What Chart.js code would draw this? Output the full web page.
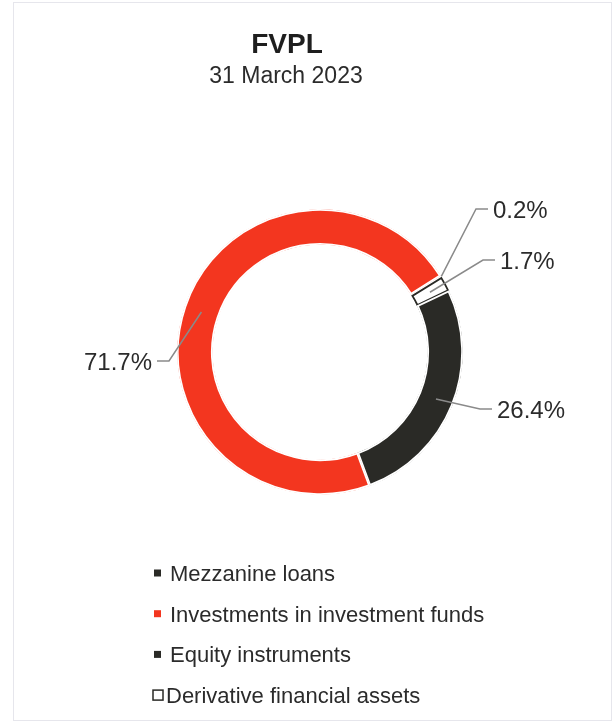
<!DOCTYPE html>
<html>
<head>
<meta charset="utf-8">
<title>FVPL</title>
<script src="https://cdn.jsdelivr.net/npm/chart.js@4.4.0/dist/chart.umd.min.js"></script>
<style>
  html, body { margin: 0; padding: 0; background: #fff; }
  #wrap { position: relative; width: 615px; height: 725px; }
  #frame { position: absolute; left: 13px; top: 2px; width: 597px; height: 717px; border: 1.5px solid #e6e6ec; }
  #chart { position: absolute; left: 0; top: 0; }
</style>
</head>
<body>
<div id="wrap">
  <div id="frame"></div>
  <canvas id="chart" width="615" height="725"></canvas>
</div>
<script>
const categories = ['Mezzanine loans', 'Investments in investment funds', 'Equity instruments', 'Derivative financial assets'];
const shares = [0.2, 71.7, 26.4, 1.7];
// clockwise order of the slices round the ring, starting at the mezzanine sliver
const ringOrder = [0, 3, 2, 1];

const DARK = '#2a2a26';
const RED = '#f3361f';
const TEXT = '#2b2b2b';
const FONT = "'Liberation Sans', Arial, sans-serif";

const fills = [DARK, RED, DARK, '#ffffff'];
const edges = ['#ffffff', '#ffffff', '#ffffff', DARK];

// where each percentage label sits, measured from the ring centre
const labelSpots = [
  { dx: 173, dy: -143, side: 'right', outer: true },
  { dx: -168, dy: 9, side: 'left' },
  { dx: 177, dy: 57, side: 'right' },
  { dx: 180, dy: -92, side: 'right' },
];

const decorations = {
  id: 'decorations',
  afterDraw(chart) {
    const ctx = chart.ctx;
    const meta = chart.getDatasetMeta(0);
    ctx.save();

    // heading
    ctx.textAlign = 'center';
    ctx.textBaseline = 'alphabetic';
    ctx.fillStyle = '#1e1e1e';
    ctx.font = `bold 28px ${FONT}`;
    ctx.fillText('FVPL', 287, 53);
    ctx.fillStyle = TEXT;
    ctx.font = `23px ${FONT}`;
    ctx.fillText('31 March 2023', 286, 83);

    // percentages with leader lines
    ctx.font = `24px ${FONT}`;
    ctx.lineWidth = 1.5;
    ctx.strokeStyle = '#8a8a8a';
    meta.data.forEach((arc, pos) => {
      const idx = ringOrder[pos];
      const spot = labelSpots[idx];
      const p = arc.getProps(['x', 'y', 'startAngle', 'endAngle', 'innerRadius', 'outerRadius'], true);
      const mid = (p.startAngle + p.endAngle) / 2;
      const r = spot.outer ? p.outerRadius : (p.innerRadius + p.outerRadius) / 2;
      const ax = p.x + Math.cos(mid) * r;
      const ay = p.y + Math.sin(mid) * r;
      const tx = p.x + spot.dx;
      const ty = p.y + spot.dy;
      const dir = spot.side === 'right' ? 1 : -1;
      const lineEnd = tx - dir * 5;
      const elbow = lineEnd - dir * 12;

      ctx.beginPath();
      ctx.moveTo(ax, ay);
      ctx.lineTo(elbow, ty);
      ctx.lineTo(lineEnd, ty);
      ctx.stroke();

      ctx.fillStyle = TEXT;
      ctx.textAlign = spot.side === 'right' ? 'left' : 'right';
      ctx.fillText(shares[idx].toFixed(1) + '%', tx, ty + 8.6);
    });

    // legend, one entry per row in category order
    const items = chart.options.plugins.legend.labels.generateLabels(chart)
      .sort((a, b) => ringOrder[a.index] - ringOrder[b.index]);
    ctx.font = `22px ${FONT}`;
    ctx.textAlign = 'left';
    items.forEach((item, row) => {
      const base = 581 + row * 40.7;
      const cy = base - 8;
      const hollow = item.fillStyle === '#ffffff';
      if (hollow) {
        ctx.strokeStyle = item.strokeStyle;
        ctx.lineWidth = 1.5;
        ctx.strokeRect(153, cy - 5, 10, 10);
      } else {
        ctx.fillStyle = item.fillStyle;
        ctx.fillRect(154, cy - 3.5, 7, 7);
      }
      ctx.fillStyle = TEXT;
      ctx.fillText(item.text, hollow ? 166 : 170, base);
    });

    ctx.restore();
  }
};

new Chart(document.getElementById('chart'), {
  type: 'doughnut',
  data: {
    labels: ringOrder.map(i => categories[i]),
    datasets: [{
      data: ringOrder.map(i => shares[i]),
      backgroundColor: ringOrder.map(i => fills[i]),
      borderColor: ringOrder.map(i => edges[i]),
      borderWidth: 1.5,
      borderAlign: 'inner'
    }]
  },
  options: {
    responsive: false,
    animation: false,
    events: [],
    rotation: 57.7,
    radius: 143,
    cutout: '75%',
    layout: {
      padding: { left: 170, right: 145, top: 202, bottom: 223 }
    },
    plugins: {
      legend: { display: false },
      tooltip: { enabled: false },
      title: { display: false }
    }
  },
  plugins: [decorations]
});
</script>
</body>
</html>
